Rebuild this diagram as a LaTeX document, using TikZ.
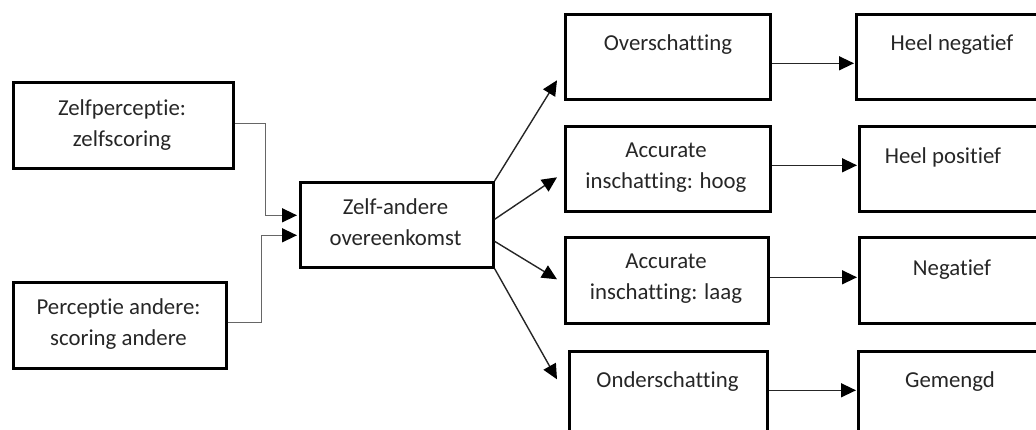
\documentclass[tikz,border=0pt]{standalone}
\usepackage{fontspec}
\setmainfont{Carlito}[RawFeature={-liga;-dlig;-clig}]
\usetikzlibrary{arrows.meta}
\begin{document}
\begin{tikzpicture}[x=1pt,y=-1pt,
  box/.style={draw=black, line width=2.6pt, inner sep=0pt, anchor=north west, minimum height=86pt},
  txt/.style={align=center, font=\fontsize{22.8}{31}\selectfont, text=black!85, inner sep=0pt},
  arr/.style={line width=1.4pt, draw=black!85, -{Triangle[length=15pt,width=14pt,color=black]}},
  elb/.style={arr, draw=black!60}]
\useasboundingbox (0,0) rectangle (1036,429);
\clip (0,0) rectangle (1036,429);
% left column
\node[box, minimum width=220pt] (A) at (12,81) {};
\node[txt] (tA) at (122,125) {Zelfperceptie:\\zelfscoring};
\node[box, minimum width=213pt] (B) at (12,281) {};
\node[txt] (tB) at (118.5,324) {Perceptie andere:\\scoring andere};
% centre
\node[box, minimum width=193pt, minimum height=85pt] (C) at (299,181) {};
\node[txt] (tC) at (395.5,222.5) {Zelf-andere\\overeenkomst};
% middle column
\node[box, minimum width=205pt, minimum height=85pt] (D) at (564,13) {};
\node[txt] (tD) at (668,45) {Overschatting};
\node[box, minimum width=205pt, minimum height=85pt] (E) at (564,125) {};
\node[txt] (tE) at (666,168) {Accurate\\inschatting: hoog};
\node[box, minimum width=203pt] (F) at (564,236) {};
\node[txt] (tF) at (666,279) {Accurate\\inschatting: laag};
\node[box, minimum width=198pt] (G) at (568,350) {};
\node[txt] (tG) at (667.5,382) {Onderschatting};
% right column
\node[box, minimum width=205pt, minimum height=85pt] (H) at (855,13) {};
\node[txt] (tH) at (952,45) {Heel negatief};
\node[box, minimum width=205pt, minimum height=85pt] (I) at (858,125) {};
\node[txt] (tI) at (943,157) {Heel positief};
\node[box, minimum width=205pt] (J) at (858,236) {};
\node[txt] (tJ) at (952,270) {Negatief};
\node[box, minimum width=205pt] (K) at (857,350) {};
\node[txt] (tK) at (950,382) {Gemengd};
% elbow connectors
\draw[elb] ([yshift=2pt]A.east) -- ++(31,0) |- ([xshift=-2pt,yshift=9.5pt]C.west);
\draw[elb] ([yshift=3pt]B.east) -- ++(34,0) |- ([xshift=-2pt,yshift=-10.5pt]C.west);
% fan out
\draw[arr] (C.north east) -- ([xshift=-7pt,yshift=-23.5pt]D.west);
\draw[arr] ([yshift=5.5pt]C.east) -- ([xshift=-7pt,yshift=-8.5pt]E.west);
\draw[arr] ([yshift=-16.5pt]C.east) -- ([xshift=-7pt,yshift=1pt]F.west);
\draw[arr] (C.south east) -- ([xshift=-11pt,yshift=15pt]G.west);
% horizontal
\draw[arr] ([yshift=-6.5pt]D.east) -- ([xshift=-1pt,yshift=-6.5pt]H.west);
\draw[arr] ([yshift=3.5pt]E.east) -- ([xshift=-1pt,yshift=3.5pt]I.west);
\draw[arr] ([yshift=3pt]F.east) -- ([xshift=-1pt,yshift=3pt]J.west);
\draw[arr] ([yshift=4pt]G.east) -- ([xshift=-1pt,yshift=4pt]K.west);
\end{tikzpicture}
\end{document}
